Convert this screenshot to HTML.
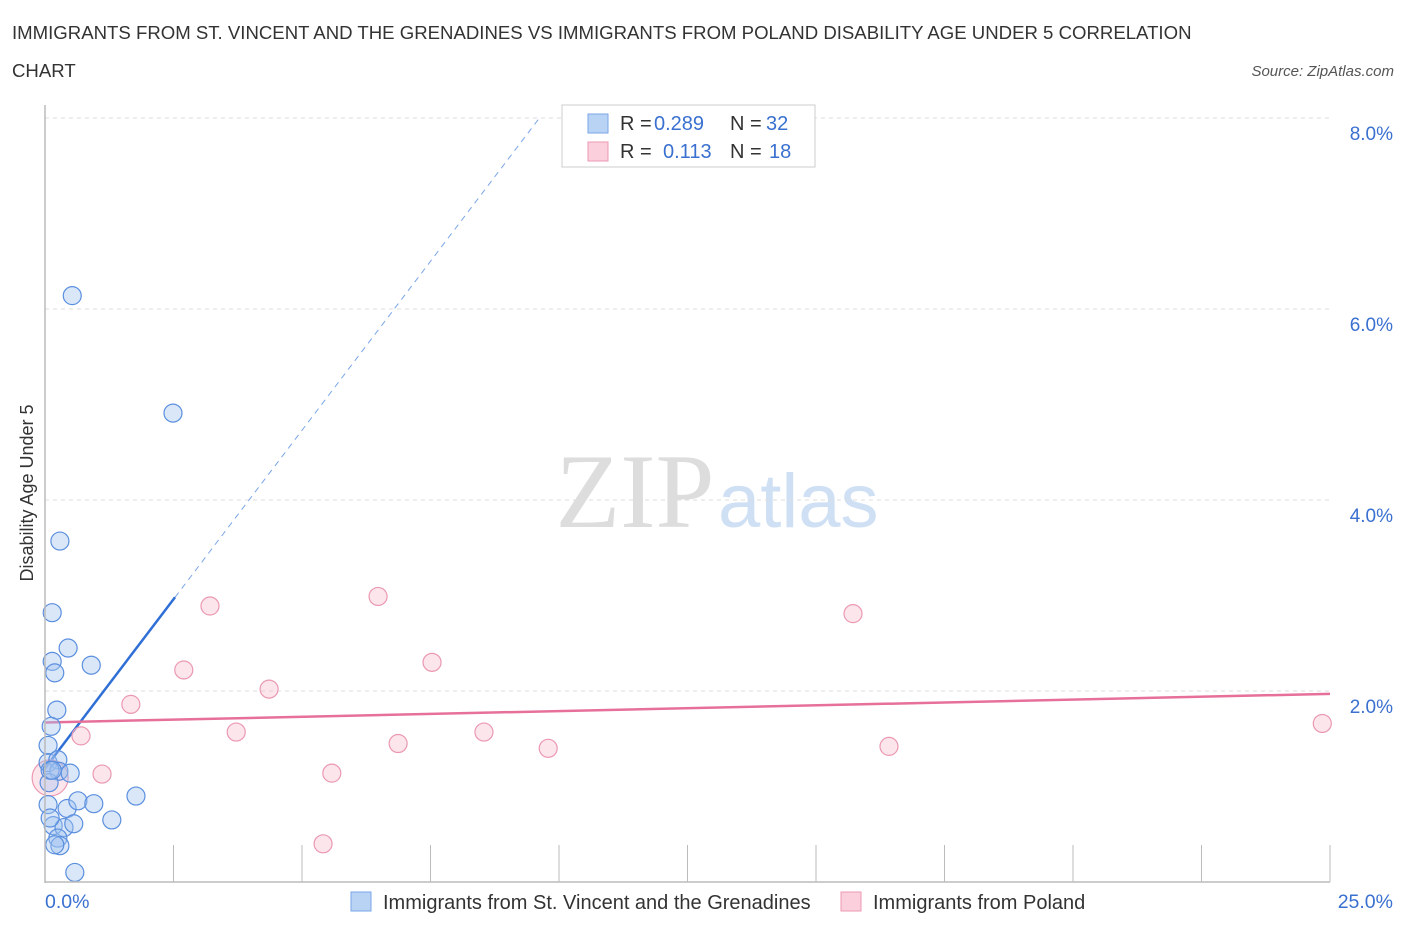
<!DOCTYPE html>
<html><head><meta charset="utf-8">
<style>
body{margin:0;background:#fff;font-family:"Liberation Sans",sans-serif;}
svg{display:block}
</style></head><body>
<svg id="chart" width="1406" height="930" xmlns="http://www.w3.org/2000/svg">
<text x="12" y="39" font-size="18.6" fill="#333">IMMIGRANTS FROM ST. VINCENT AND THE GRENADINES VS IMMIGRANTS FROM POLAND DISABILITY AGE UNDER 5 CORRELATION</text>
<text x="12" y="77" font-size="18.6" fill="#333">CHART</text>
<text x="1394" y="76" font-size="15" fill="#555" font-style="italic" text-anchor="end">Source: ZipAtlas.com</text>
<text x="635" y="527" font-size="106" fill="#ddd" font-family="Liberation Serif,serif" text-anchor="middle">ZIP</text>
<text x="718" y="527" font-size="76" fill="#cfe0f5">atlas</text>
<text transform="translate(33,493) rotate(-90)" font-size="18" fill="#333" text-anchor="middle">Disability Age Under 5</text>
<g id="grid"></g><g id="ticks"></g><g id="lines"></g><g id="points"></g>
<line x1="45" y1="105" x2="45" y2="883" stroke="#bbb" stroke-width="1.5"/>
<line x1="45" y1="882" x2="1330" y2="882" stroke="#bbb" stroke-width="1.5"/>
<text x="45" y="908" font-size="19.5" fill="#3a70d0">0.0%</text>
<text x="1393" y="908" font-size="19.5" fill="#3a70d0" text-anchor="end">25.0%</text>
<g>
<rect x="562" y="105" width="253" height="62" fill="#fff" stroke="#ccc"/>
<rect x="588" y="114" width="20" height="19" fill="#b9d3f5" stroke="#7aa6e6"/>
<text x="620" y="130" font-size="20" fill="#333">R =</text>
<text x="654" y="130" font-size="20" fill="#3a70d0">0.289</text>
<text x="730" y="130" font-size="20" fill="#333">N =</text>
<text x="766" y="130" font-size="20" fill="#3a70d0">32</text>
<rect x="588" y="142" width="20" height="19" fill="#fbcfdc" stroke="#ee9ab4"/>
<text x="620" y="158" font-size="20" fill="#333">R =</text>
<text x="663" y="158" font-size="20" fill="#3a70d0">0.113</text>
<text x="730" y="158" font-size="20" fill="#333">N =</text>
<text x="769" y="158" font-size="20" fill="#3a70d0">18</text>
</g>
<g>
<rect x="351" y="892" width="20" height="19" fill="#b9d3f5" stroke="#7aa6e6"/>
<text x="383" y="909" font-size="20" fill="#333">Immigrants from St. Vincent and the Grenadines</text>
<rect x="841" y="892" width="20" height="19" fill="#fbcfdc" stroke="#ee9ab4"/>
<text x="873" y="909" font-size="20" fill="#333">Immigrants from Poland</text>
</g>
</svg>
<script>
const yTicks=[2,4,6,8];
const yTickLabels=["2.0%","4.0%","6.0%","8.0%"];
const xTickCount=10;
const blueX=[0.53,2.49,0.29,0.14,0.45,0.14,0.90,0.19,0.23,0.12,0.06,0.06,0.25,0.27,0.49,0.08,0.06,0.43,0.64,0.95,1.77,1.30,0.16,0.37,0.56,0.25,0.29,0.19,0.58,0.10,0.10,0.14];
const blueY=[6.14,4.91,3.57,2.82,2.45,2.31,2.27,2.19,1.80,1.63,1.43,1.25,1.28,1.16,1.14,1.04,0.81,0.77,0.85,0.82,0.90,0.65,0.59,0.57,0.61,0.46,0.38,0.39,0.10,0.67,1.17,1.17];
const pinkX=[3.21,6.48,2.70,7.53,4.36,15.72,1.67,3.72,0.70,6.87,8.54,9.79,16.42,24.85,1.11,5.58,5.41,0.10];
const pinkY=[2.89,2.99,2.22,2.30,2.02,2.81,1.86,1.57,1.53,1.45,1.57,1.40,1.42,1.66,1.13,1.14,0.40,1.09];
const blueTrend=[1.19,0.708];
const pinkTrend=[1.67,0.012];
const X=v=>45+v/25*1285;
const Y=v=>882-v/8*764;
const NS="http://www.w3.org/2000/svg";
function mk(p,t,a){const e=document.createElementNS(NS,t);for(const k in a)e.setAttribute(k,a[k]);document.getElementById(p).appendChild(e);return e;}
yTicks.forEach((v,i)=>{
 const g=mk('grid','line',{x1:45,x2:1330,y1:Y(v),y2:Y(v),stroke:'#ddd','stroke-dasharray':'4,4'});
 
 
 const t=mk('grid','text',{x:1393,y:Y(v)+22,'font-size':19,fill:'#3a70d0','text-anchor':'end'});
 t.textContent=yTickLabels[i];
 
 
});
for(let i=1;i<=xTickCount;i++){
 const l=mk('ticks','line',{x1:X(i*2.5),x2:X(i*2.5),y1:845,y2:882,stroke:'#bbb'});
 
 
}
const bx1=2.53,bx2=(8-blueTrend[0])/blueTrend[1];
let l=mk('lines','line',{x1:X(0),y1:Y(blueTrend[0]),x2:X(bx1),y2:Y(blueTrend[0]+blueTrend[1]*bx1),stroke:'#2f6fd6','stroke-width':2.5});


l=mk('lines','line',{x1:X(bx1),y1:Y(blueTrend[0]+blueTrend[1]*bx1),x2:X(bx2),y2:Y(8),stroke:'#7aa6e6','stroke-width':1,'stroke-dasharray':'6,5'});


l=mk('lines','line',{x1:X(0),y1:Y(pinkTrend[0]),x2:X(25),y2:Y(pinkTrend[0]+pinkTrend[1]*25),stroke:'#e6709a','stroke-width':2.5});


pinkX.forEach((v,i)=>{
 const c=mk('points','circle',{cx:X(v),cy:Y(pinkY[i]),r:i==pinkX.length-1?18:9,fill:'rgba(248,180,200,0.35)',stroke:'#eb98b2','stroke-width':1.2});
 
 
});
blueX.forEach((v,i)=>{
 const c=mk('points','circle',{cx:X(v),cy:Y(blueY[i]),r:9,fill:'rgba(160,195,240,0.4)',stroke:'#5b8fde','stroke-width':1.2});
 
 
});
</script>
</body></html>
